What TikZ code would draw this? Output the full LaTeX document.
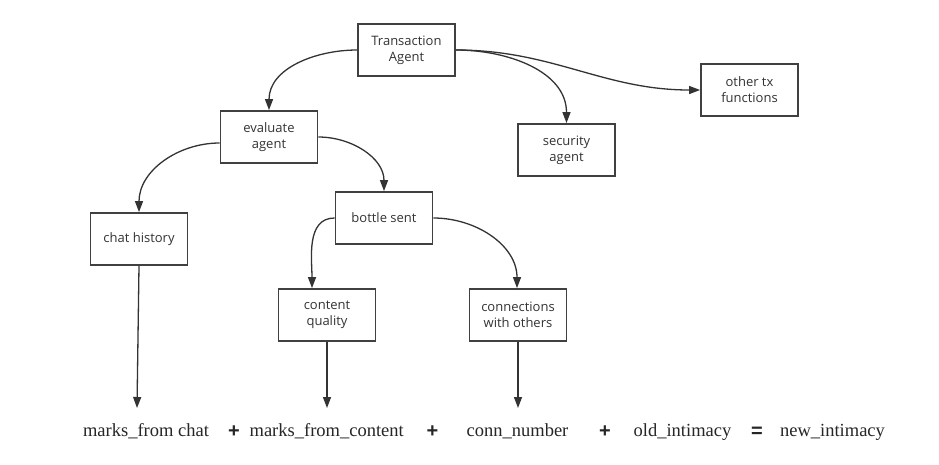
\documentclass[tikz,border=0pt]{standalone}
\usepackage{fontspec}
\setmainfont{Open Sans}
\newfontfamily\formulafont{Liberation Serif}
\newfontfamily\opfont{Liberation Sans}
\usetikzlibrary{arrows.meta}
\definecolor{ink}{HTML}{333333}
\definecolor{boxline}{HTML}{404040}
\definecolor{ftext}{HTML}{262626}
\begin{document}
\begin{tikzpicture}[x=1pt,y=-1pt,
  box/.style={draw=boxline, line width=1.8pt, minimum width=97pt, minimum height=52pt, inner sep=0pt, align=center, text=ink, font=\fontsize{13}{16}\selectfont},
  conn/.style={draw=ink, line width=1.3pt, -{Triangle[length=11pt,width=8pt]}},
  formula/.style={font=\formulafont\fontsize{18.5}{20}\selectfont, text=ftext, anchor=base, inner sep=0pt},
  op/.style={font=\opfont\bfseries\fontsize{20}{22}\selectfont, text=ftext, anchor=base, inner sep=0pt}]
\useasboundingbox[fill=white] (0,0) rectangle (939,464);

\node[box] (ta) at (406.5,50) {Transaction\\Agent};
\node[box] (eval) at (269,137) {evaluate\\agent};
\node[box] (sec) at (566.5,150) {security\\agent};
\node[box] (other) at (749.5,90) {other tx\\functions};
\node[box] (chat) at (139,239) {chat history};
\node[box] (bottle) at (384,218) {bottle sent};
\node[box] (content) at (327,315) {content\\quality};
\node[box] (conns) at (518,315) {connections\\with others};

\coordinate (e1) at (137,408);
\coordinate (e2) at (327,408);
\coordinate (e3) at (518,408);

\draw[conn] (ta.west) to[out=180,in=90] (eval.north);
\draw[conn] (ta.east) to[out=0,in=90] (sec.north);
\draw[conn] (ta.east) to[out=0,in=180] (other.west);
\draw[conn] ([yshift=-6pt]eval.west) to[out=180,in=90] (chat.north);
\draw[conn] (eval.east) to[out=0,in=90] (bottle.north);
\draw[conn] (bottle.west) to[out=180,in=90] ([xshift=-15pt]content.north);
\draw[conn] (bottle.east) to[out=0,in=90] ([xshift=-1pt]conns.north);
\draw[conn] (chat.south) -- (e1);
\draw[conn] (content.south) -- (e2);
\draw[conn] (conns.south) -- (e3);

\node[formula] (f1) at (146,436.5) {marks\_from chat};
\node[op] (p1) at (234,437) {+};
\node[formula] (f2) at (326.7,436.5) {marks\_from\_content};
\node[op] (p2) at (432.5,437) {+};
\node[formula] (f3) at (517.5,436.5) {conn\_number};
\node[op] (p3) at (605,437) {+};
\node[formula] (f4) at (682.5,436.5) {old\_intimacy};
\node[op] (eq) at (757,437) {=};
\node[formula] (f5) at (832.5,436.5) {new\_intimacy};
\end{tikzpicture}
\end{document}
